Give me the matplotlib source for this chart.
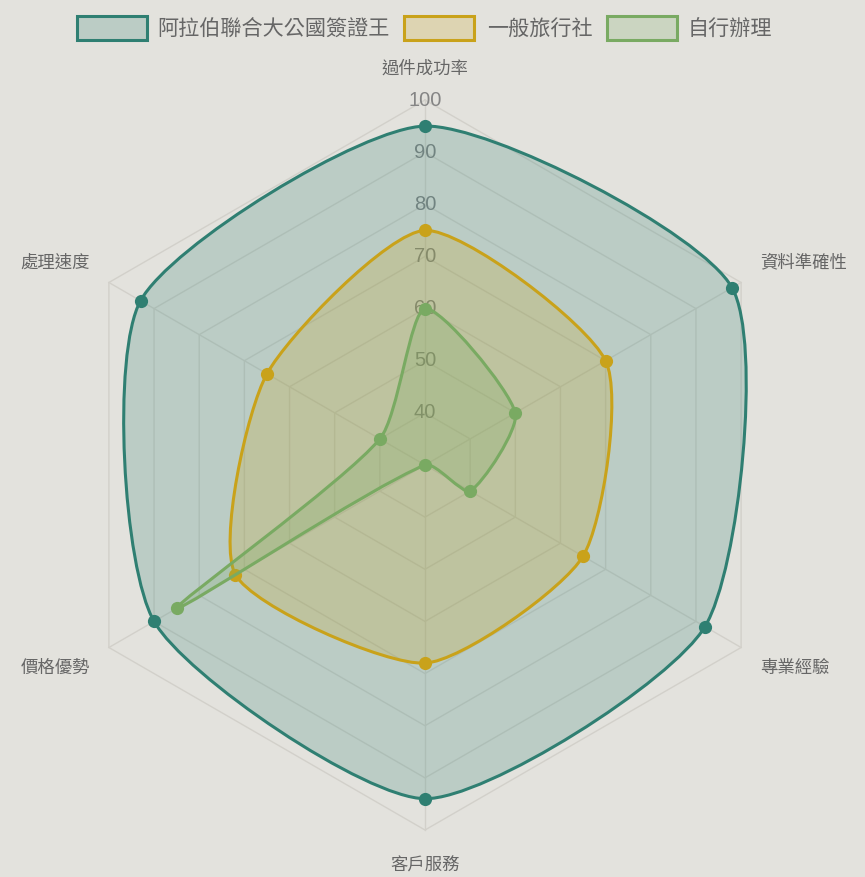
import numpy as np
import matplotlib
matplotlib.use("Agg")
import matplotlib.pyplot as plt
from matplotlib.path import Path
from matplotlib.patches import PathPatch, Rectangle

plt.rcParams['font.family'] = ['Noto Sans CJK TC', 'DejaVu Sans']

# datos
ejes = ["過件成功率", "資料準確性", "專業經驗", "客戶服務", "價格優勢", "處理速度"]
series = ["阿拉伯聯合大公國簽證王", "一般旅行社", "自行辦理"]
valores_uae = [95, 98, 92, 94, 90, 93]
valores_agencia = [75, 70, 65, 68, 72, 65]
valores_propio = [60, 50, 40, 30, 85, 40]
ticks = [40, 50, 60, 70, 80, 90, 100]

vmin, vmax = 30, 100
colores = ["#2f7f72", "#c9a21a", "#79aa62"]
rellenos = [(0.18, 0.50, 0.45, 0.22), (0.80, 0.64, 0.10, 0.22), (0.47, 0.67, 0.38, 0.22)]
fondo = "#e3e2dd"

W, H = 865, 877
cx, cy, R = 425, 465, 365  # centro y radio en pixeles

fig = plt.figure(figsize=(W / 100, H / 100), dpi=100, facecolor=fondo)
ax = fig.add_axes([0, 0, 1, 1])
ax.set_facecolor(fondo)
ax.set_xlim(-cx / R, (W - cx) / R)
ax.set_ylim(-(H - cy) / R, cy / R)
ax.set_aspect("equal")
ax.axis("off")

n = len(ejes)
ang = np.pi / 2 - np.arange(n) * 2 * np.pi / n


def a_xy(vals):
    r = (np.array(vals, dtype=float) - vmin) / (vmax - vmin)
    return r * np.cos(ang), r * np.sin(ang)


# rejilla
for t in ticks:
    r = (t - vmin) / (vmax - vmin)
    gx = np.append(r * np.cos(ang), r * np.cos(ang[0]))
    gy = np.append(r * np.sin(ang), r * np.sin(ang[0]))
    ax.plot(gx, gy, color="#d2d0ca", lw=1.0, zorder=1)
for a in ang:
    ax.plot([0, np.cos(a)], [0, np.sin(a)], color="#d2d0ca", lw=1.0, zorder=1)

# etiquetas de los ejes
for nombre, a in zip(ejes, ang):
    c, s = np.cos(a), np.sin(a)
    ha = "center" if abs(c) < 0.01 else ("left" if c > 0 else "right")
    va = "bottom" if s > 0.01 else ("top" if s < -0.01 else "center")
    off = 1 + (27 if (va == "top" and ha == "center") else 22) / R
    ax.text(off * c, off * s, nombre, ha=ha, va=va, fontsize=12.5, color="#666666")

# ticks
for t in ticks:
    r = (t - vmin) / (vmax - vmin)
    ax.text(0, r, str(t), ha="center", va="center", fontsize=14.5,
            color="#858585", family="Liberation Sans", zorder=2)


def curva(xs, ys, tension=0.22):
    pts = np.column_stack([xs, ys])
    m = len(pts)
    cp_prev, cp_next = [], []
    for i in range(m):
        p0, p1, p2 = pts[i - 1], pts[i], pts[(i + 1) % m]
        d01 = np.hypot(*(p1 - p0))
        d12 = np.hypot(*(p2 - p1))
        tot = d01 + d12
        s01 = d01 / tot if tot else 0
        s12 = d12 / tot if tot else 0
        cp_prev.append(p1 - tension * s01 * (p2 - p0))
        cp_next.append(p1 + tension * s12 * (p2 - p0))
    verts = [pts[0]]
    codes = [Path.MOVETO]
    for i in range(m):
        j = (i + 1) % m
        verts += [cp_next[i], cp_prev[j], pts[j]]
        codes += [Path.CURVE4] * 3
    return Path(verts, codes)


datos = [valores_uae, valores_agencia, valores_propio]
for k, vals in enumerate(datos):
    xs, ys = a_xy(vals)
    p = curva(xs, ys)
    ax.add_patch(PathPatch(p, facecolor=rellenos[k], edgecolor="none", zorder=3 + k))
    ax.add_patch(PathPatch(p, facecolor="none", edgecolor=colores[k], lw=2.2, zorder=3 + k))
    ax.plot(xs, ys, "o", color=colores[k], ms=9.5, mec="none", zorder=3.5 + k)

# leyenda
leg_y = 1 - 30 / H
cajas = [(77, 157), (404, 487), (607, 688)]
for k, (bx, tx) in enumerate(cajas):
    fig.patches.append(Rectangle((bx / W, 1 - 40 / H), 70 / W, 24 / H,
                                 transform=fig.transFigure, facecolor=rellenos[k],
                                 edgecolor=colores[k], lw=2.2))
    fig.text(tx / W, leg_y, series[k], ha="left", va="center",
             fontsize=15.2, color="#666666")

fig.savefig("out.png", dpi=100, facecolor=fondo)
